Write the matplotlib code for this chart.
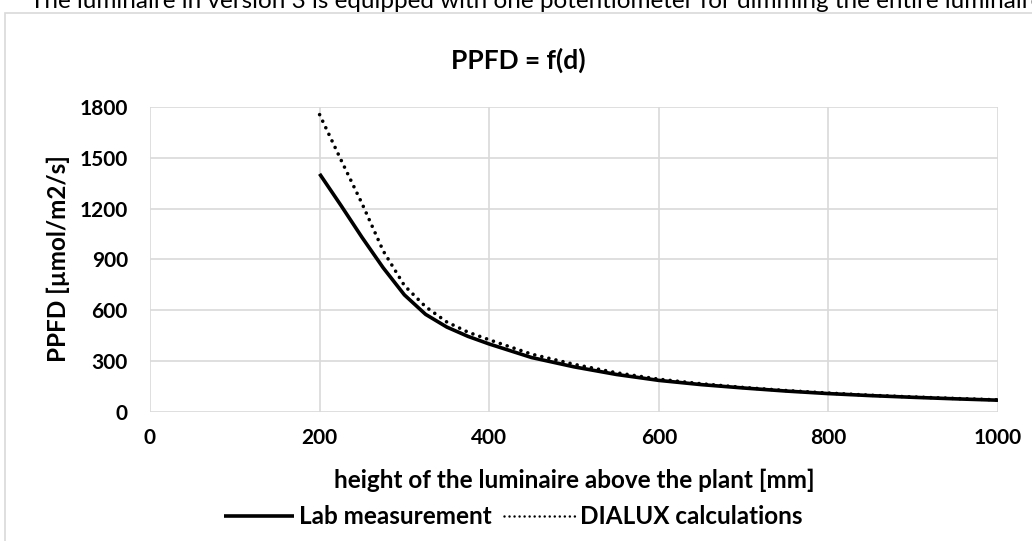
import matplotlib
matplotlib.use("Agg")
import matplotlib.pyplot as plt
from matplotlib.patches import Rectangle

plt.rcParams["font.family"] = ["Lato", "DejaVu Sans"]

# distance luminaire -> plant [mm]
height_mm = [200, 225, 250, 275, 300, 325, 350, 375, 400, 450, 500, 550,
             600, 650, 700, 750, 800, 850, 900, 950, 1000]
lab_ppfd = [1405, 1220, 1030, 850, 690, 575, 500, 445, 400, 320, 265, 220,
            185, 160, 140, 122, 107, 95, 85, 76, 68]
dialux_ppfd = [1755, 1490, 1230, 950, 745, 620, 530, 470, 425, 340, 280, 230,
               192, 165, 143, 125, 110, 97, 87, 78, 70]

x_ticks = [0, 200, 400, 600, 800, 1000]
y_ticks = [0, 300, 600, 900, 1200, 1500, 1800]

W, H = 1032, 541
fig = plt.figure(figsize=(W / 100, H / 100), dpi=100)
fig.patch.set_facecolor("white")

# chart area frame + cut-off sentence above it
fig.patches.append(Rectangle((5 / W, -0.05), 1.1, (H - 13) / H + 0.05,
                             transform=fig.transFigure, fill=False,
                             edgecolor="#d9d9d9", linewidth=1.2))
fig.text(30 / W, 1 - 7.5 / H,
         "The luminaire in version 3 is equipped with one potentiometer for dimming the entire luminaire",
         fontsize=17.5, color="black", ha="left", va="baseline")

ax = fig.add_axes([150 / W, 129.3 / H, 848 / W, 304.7 / H])
ax.plot(height_mm, lab_ppfd, color="black", linewidth=2.6,
        label="Lab measurement", solid_capstyle="butt")
ax.plot(height_mm, dialux_ppfd, color="black", linewidth=2.6,
        linestyle=(0, (0.01, 2.0)), dash_capstyle="round",
        label="DIALUX calculations")

ax.set_xlim(0, 1000)
ax.set_ylim(0, 1800)
ax.set_xticks(x_ticks)
ax.set_yticks(y_ticks)
ax.grid(True, color="#d9d9d9", linewidth=1.2)
ax.set_axisbelow(True)
for s in ax.spines.values():
    s.set_visible(False)
ax.tick_params(length=0, labelsize=15)
ax.tick_params(axis="x", pad=12)
ax.tick_params(axis="y", pad=16)
for lab in ax.get_xticklabels() + ax.get_yticklabels():
    lab.set_fontweight("bold")

fig.text(518 / W, 1 - 60 / H, "PPFD = f(d)", fontsize=19, fontweight="bold",
         ha="center", va="center")
ax.set_xlabel("height of the luminaire above the plant [mm]",
              fontsize=17.5, fontweight="bold")
ax.set_ylabel("PPFD [µmol/m2/s]", fontsize=17.5, fontweight="bold")
ax.xaxis.set_label_coords(0.5, -0.224)
ax.yaxis.set_label_coords(-0.108, 0.504)
ax.xaxis.label.set_va("center")
ax.yaxis.label.set_va("center")

leg = fig.legend(loc="center", bbox_to_anchor=(513 / W, (H - 517) / H),
                 ncol=2, frameon=False, handlelength=2.9,
                 handletextpad=0.2, columnspacing=0.5,
                 prop={"weight": "bold", "size": 17.5})
leg.get_lines()[1].set_linewidth(1.8)

fig.savefig("out.png", dpi=100)
